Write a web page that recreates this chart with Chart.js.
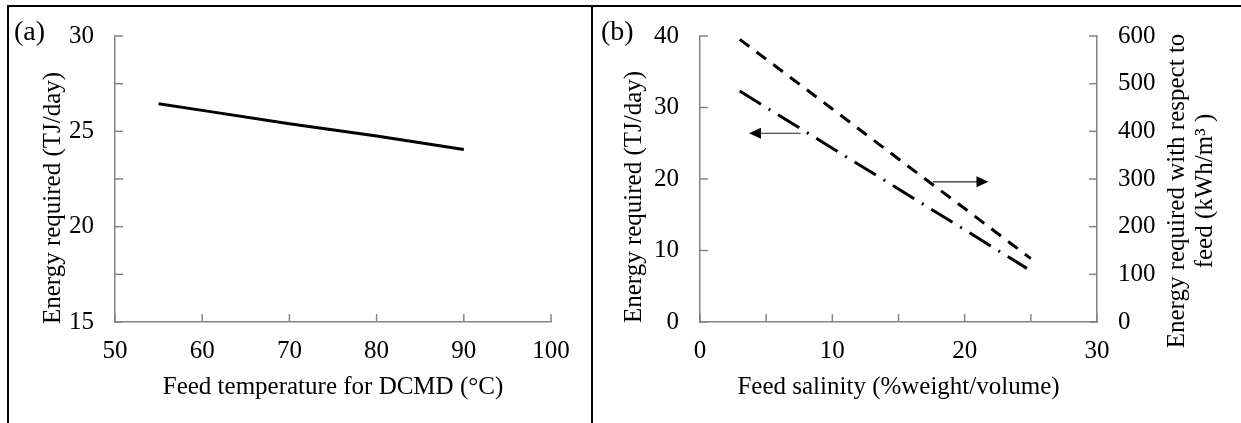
<!DOCTYPE html>
<html lang="en">
<head>
<meta charset="UTF-8">
<title>Energy required vs feed temperature and salinity</title>
<script src="https://cdn.jsdelivr.net/npm/chart.js"></script>
<style>
  body { margin: 0; background: #fff; }
  #wrap { position: relative; width: 1241px; height: 423px; overflow: hidden; }
  canvas { position: absolute; top: 0; }
  #chartA { left: 0; }
  #chartB { left: 592px; }
  .rule { position: absolute; background: #000; }
</style>
</head>
<body>
<div id="wrap">
  <canvas id="chartA" width="592" height="423"></canvas>
  <canvas id="chartB" width="649" height="423"></canvas>
  <div class="rule" style="left:7px;top:5px;width:1234px;height:2px"></div>
  <div class="rule" style="left:7px;top:5px;width:2px;height:418px"></div>
  <div class="rule" style="left:591px;top:5px;width:2px;height:418px"></div>
</div>
<script>
// (a) energy vs feed temperature
const feedTemp = [55, 60, 70, 80, 90];
const energyByTemp = [26.45, 26.1, 25.4, 24.75, 24.05];

// (b) energy vs feed salinity
const salinityTJ = [3, 10, 15, 20, 24.7];
const energyTJ = [32.3, 24.3, 18.6, 12.9, 7.5];
const salinityKWh = [3, 10, 15, 20, 25];
const energyKWh = [593, 447, 342, 238, 133];

const titleA_x = 'Feed temperature for DCMD (\u00B0C)';
const titleA_y = 'Energy required (TJ/day)';
const titleB_x = 'Feed salinity (%weight/volume)';
const titleB_y = 'Energy required (TJ/day)';
const titleB_y2 = ['Energy required with respect to', 'feed (kWh/m\u00B3 )'];

const FONT = "'Liberation Serif', 'Times New Roman', serif";
const INK = '#000';
const AXIS = '#858585';
const tickFont = { family: FONT, size: 25 };

// inward tick marks, rotated y titles, panel letter and arrows
const decor = {
  id: 'decor',
  afterDraw(chart, args, opts) {
    const ctx = chart.ctx;
    const area = chart.chartArea;
    ctx.save();
    ctx.strokeStyle = AXIS;
    ctx.lineWidth = 1.5;
    Object.values(chart.scales).forEach(s => {
      s.ticks.forEach(t => {
        const p = s.getPixelForValue(t.value);
        ctx.beginPath();
        if (s.axis === 'x') {
          ctx.moveTo(p, area.bottom); ctx.lineTo(p, area.bottom - 8);
        } else if (s.position === 'left') {
          ctx.moveTo(area.left, p); ctx.lineTo(area.left + 8, p);
        } else {
          ctx.moveTo(area.right, p); ctx.lineTo(area.right - 8, p);
        }
        ctx.stroke();
      });
    });

    ctx.fillStyle = INK;
    ctx.font = '28px ' + FONT;
    ctx.textAlign = 'left';
    ctx.textBaseline = 'middle';
    ctx.fillText(opts.letter, opts.letterX, 33);

    ctx.font = '25px ' + FONT;
    opts.yTitles.forEach(t => {
      ctx.save();
      ctx.translate(t.x, t.y);
      ctx.rotate(-Math.PI / 2);
      ctx.textAlign = 'center';
      ctx.textBaseline = 'alphabetic';
      ctx.fillText(t.text, 0, 0);
      ctx.restore();
    });

    const xs = chart.scales.x, ys = chart.scales.y;
    (opts.arrows || []).forEach(a => {
      const x1 = xs.getPixelForValue(a.from[0]), y1 = ys.getPixelForValue(a.from[1]);
      const x2 = xs.getPixelForValue(a.to[0]), y2 = ys.getPixelForValue(a.to[1]);
      const dir = Math.sign(x2 - x1);
      ctx.strokeStyle = '#222';
      ctx.lineWidth = 1.2;
      ctx.beginPath();
      ctx.moveTo(x1, y1);
      ctx.lineTo(x2 - dir * 10, y2);
      ctx.stroke();
      ctx.fillStyle = INK;
      ctx.beginPath();
      ctx.moveTo(x2, y2);
      ctx.lineTo(x2 - dir * 12, y2 - 5.5);
      ctx.lineTo(x2 - dir * 12, y2 + 5.5);
      ctx.closePath();
      ctx.fill();
    });
    ctx.restore();
  }
};

function xScale(min, max, step, labelEvery, title) {
  return {
    type: 'linear', min: min, max: max,
    grid: { display: false, drawTicks: false },
    border: { color: AXIS, width: 1.5 },
    ticks: {
      stepSize: step, maxRotation: 0, autoSkip: false, padding: 14,
      font: tickFont, color: INK,
      callback: v => (v % labelEvery === 0 ? v : '')
    },
    title: { display: true, text: title, color: INK, font: { family: FONT, size: 25 }, padding: { top: 0, bottom: 21 } },
    afterFit: s => { s.height = 101; }
  };
}

function yScale(min, max, step, labelEvery, position, width) {
  return {
    type: 'linear', position: position, min: min, max: max,
    grid: { display: false, drawTicks: false },
    border: { color: AXIS, width: 1.5 },
    ticks: {
      stepSize: step, autoSkip: false, padding: 21,
      font: tickFont, color: INK,
      callback: v => (v % labelEvery === 0 ? v : '')
    },
    afterFit: s => { s.width = width; }
  };
}

new Chart(document.getElementById('chartA'), {
  type: 'line',
  data: {
    datasets: [{
      data: feedTemp.map((x, i) => ({ x: x, y: energyByTemp[i] })),
      borderColor: INK, borderWidth: 3, pointRadius: 0, tension: 0
    }]
  },
  options: {
    responsive: false, animation: false, devicePixelRatio: 1,
    layout: { padding: { left: 0, right: 41, top: 30, bottom: 0 } },
    plugins: {
      legend: { display: false }, tooltip: { enabled: false },
      decor: {
        letter: '(a)', letterX: 14,
        yTitles: [{ text: titleA_y, x: 60, y: 198 }]
      }
    },
    scales: {
      x: xScale(50, 100, 10, 10, titleA_x),
      y: yScale(15, 30, 2.5, 5, 'left', 115)
    }
  },
  plugins: [decor]
});

new Chart(document.getElementById('chartB'), {
  type: 'line',
  data: {
    datasets: [{
      data: salinityTJ.map((x, i) => ({ x: x, y: energyTJ[i] })),
      yAxisID: 'y',
      borderColor: INK, borderWidth: 3, borderDash: [25, 9, 2, 9], borderCapStyle: 'butt',
      pointRadius: 0, tension: 0
    }, {
      data: salinityKWh.map((x, i) => ({ x: x, y: energyKWh[i] })),
      yAxisID: 'y1',
      borderColor: INK, borderWidth: 3, borderDash: [12, 9], borderCapStyle: 'butt',
      pointRadius: 0, tension: 0
    }]
  },
  options: {
    responsive: false, animation: false, devicePixelRatio: 1,
    layout: { padding: { left: 0, right: 0, top: 30, bottom: 0 } },
    plugins: {
      legend: { display: false }, tooltip: { enabled: false },
      decor: {
        letter: '(b)', letterX: 9,
        yTitles: [
          { text: titleB_y, x: 49, y: 197 },
          { text: titleB_y2[0], x: 592, y: 191 },
          { text: titleB_y2[1], x: 620, y: 191 }
        ],
        arrows: [
          { from: [7.6, 26.4], to: [3.7, 26.4] },
          { from: [17.6, 19.6], to: [21.8, 19.6] }
        ]
      }
    },
    scales: {
      x: xScale(0, 30, 5, 10, titleB_x),
      y: yScale(0, 40, 10, 10, 'left', 108),
      y1: yScale(0, 600, 100, 100, 'right', 144)
    }
  },
  plugins: [decor]
});
</script>
</body>
</html>
